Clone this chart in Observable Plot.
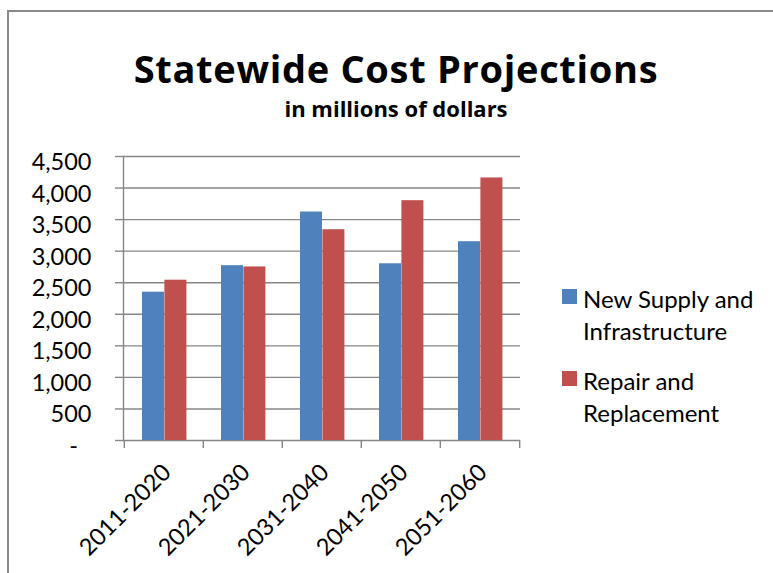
<!DOCTYPE html>
<html>
<head>
<meta charset="utf-8">
<script src="https://cdn.jsdelivr.net/npm/d3@7"></script>
<script src="https://cdn.jsdelivr.net/npm/@observablehq/plot@0.6"></script>
<style>
  body { margin: 0; background: #fff; font-family: Lato, "Open Sans", sans-serif; }
  #wrap { position: relative; width: 773px; height: 573px; overflow: hidden; background: #fff; }
  #border { position: absolute; left: 7px; top: 10px; width: 1000px; height: 1000px; border: 2px solid #8a8a8a; box-sizing: border-box; }
  #title { position: absolute; left: 0; width: 792px; top: 48.5px; text-align: center; font-family: "Open Sans", Lato, sans-serif; font-weight: 700; font-size: 38px; line-height: 38px; letter-spacing: 0.7px; color: #000; }
  #subtitle { position: absolute; left: 0; width: 792px; top: 96.5px; text-align: center; font-family: "Open Sans", Lato, sans-serif; font-weight: 700; font-size: 22px; line-height: 22px; color: #000; }
  #chart { position: absolute; left: 0; top: 140px; }
  .leg { position: absolute; left: 562px; font-size: 24px; line-height: 32px; color: #000; }
  .leg .sw { position: absolute; left: 0; width: 15px; height: 15px; top: 6px; }
  .leg .lab { position: absolute; left: 21px; width: 220px; white-space: pre; }
</style>
</head>
<body>
<div id="wrap">
  <div id="border"></div>
  <div id="title">Statewide Cost Projections</div>
  <div id="subtitle">in millions of dollars</div>
  <div id="chart"></div>
</div>
<script>
const categories = ["2011-2020", "2021-2030", "2031-2040", "2041-2050", "2051-2060"];
const newSupply = [2350, 2770, 3620, 2800, 3150];
const repair = [2540, 2750, 3340, 3800, 4160];
const seriesNames = ["New Supply and Infrastructure", "Repair and Replacement"];
const legendLines = [["New Supply and", "Infrastructure"], ["Repair and", "Replacement"]];
const seriesColors = ["#4F81BD", "#C0504D"];
const yTicks = [0, 500, 1000, 1500, 2000, 2500, 3000, 3500, 4000, 4500];

const rows = [];
categories.forEach((c, i) => {
  rows.push({category: c, series: seriesNames[0], value: newSupply[i]});
  rows.push({category: c, series: seriesNames[1], value: repair[i]});
});

const W = 773, H = 433, mL = 123, mR = 253, mT = 16, mB = 133;
const step = (W - mL - mR) / categories.length;
const gray = "#868686";
const fmt = d => d === 0 ? "-\u2007" : d3.format(",")(d);

const chart = Plot.plot({
  width: W, height: H,
  marginLeft: mL, marginRight: mR, marginTop: mT, marginBottom: mB,
  style: { fontFamily: "Lato, 'Open Sans', sans-serif", fontSize: "23.5px", color: "#000", background: "transparent", overflow: "visible" },
  x: { domain: categories, paddingInner: 0, paddingOuter: 0, label: null },
  y: { domain: [0, 4500], label: null },
  color: { domain: seriesNames, range: seriesColors },
  marks: [
    Plot.gridY(yTicks, { stroke: gray, strokeOpacity: 1, strokeWidth: 1.4 }),
    Plot.axisY({ ticks: yTicks, tickSize: 8, tickFormat: () => "", stroke: gray, strokeWidth: 1.4 }),
    Plot.axisY({ ticks: yTicks, tickSize: 0, tickPadding: 32, dy: 6, tickFormat: fmt, fill: "#000" }),
    Plot.barY(rows.filter(r => r.series === seriesNames[0]), { x: "category", y: "value", fill: "series", insetLeft: 18, insetRight: step - 18 - 22.4 }),
    Plot.barY(rows.filter(r => r.series === seriesNames[1]), { x: "category", y: "value", fill: "series", insetLeft: 18 + 22.4, insetRight: step - 18 - 44.8 }),
    Plot.frame({ anchor: "left", stroke: gray, strokeWidth: 1.4 }),
    Plot.axisX({ tickSize: 8, tickFormat: () => "", dx: -step / 2, stroke: gray, strokeWidth: 1.4 }),
    Plot.axisX({ ticks: [categories[categories.length - 1]], tickSize: 8, tickFormat: () => "", dx: step / 2, stroke: gray, strokeWidth: 1.4 }),
    Plot.axisX({ tickSize: 0, tickPadding: 28, tickRotate: -45, dx: 3, fill: "#000" })
  ]
});
document.getElementById("chart").appendChild(chart);

// Legend (HTML), built from the series arrays
const wrap = d3.select("#wrap");
const legTops = [282.5, 364.5];
seriesNames.forEach((s, i) => {
  const g = wrap.append("div").attr("class", "leg").style("top", legTops[i] + "px");
  g.append("div").attr("class", "sw").style("background", seriesColors[i]);
  g.append("div").attr("class", "lab").text(legendLines[i].join("\n"));
});
</script>
</body>
</html>
